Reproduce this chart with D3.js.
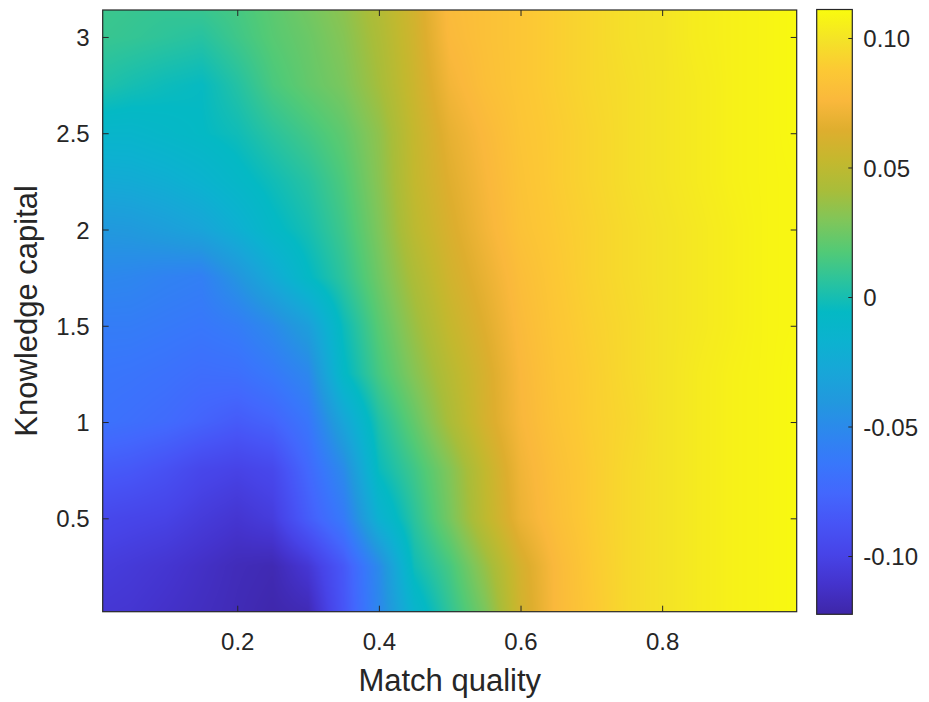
<!DOCTYPE html>
<html>
<head>
<meta charset="utf-8">
<script src="https://cdnjs.cloudflare.com/ajax/libs/d3/7.8.5/d3.min.js"></script>
<style>
  body { margin: 0; background: #fff; }
  text { font-family: "Liberation Sans", Arial, Helvetica, sans-serif; fill: #262626; }
  .tick line { stroke: #262626; stroke-width: 1; }
</style>
</head>
<body>
<div class="container"></div>
<script>
  // grid: match quality (columns) and knowledge capital (rows, bottom to top)
  var matchQ = [0.01, 0.05, 0.1, 0.15, 0.2, 0.25, 0.3, 0.35, 0.4, 0.45, 0.5,
                0.55, 0.6, 0.65, 0.7, 0.75, 0.8, 0.85, 0.9, 0.95, 0.99];
  var knowCap = [0.015, 0.25, 0.5, 0.75, 1.0, 1.25, 1.5, 1.75, 2.0, 2.25, 2.5, 2.75, 3.0, 3.14];

  // values, one array per knowledge capital level
  var zK000 = [-0.108, -0.109, -0.112, -0.115, -0.118, -0.121, -0.118, -0.087, -0.052, -0.014, 0.008, 0.028, 0.058, 0.077, 0.087, 0.095, 0.099, 0.103, 0.106, 0.108, 0.110];
  var zK025 = [-0.104, -0.106, -0.109, -0.113, -0.117, -0.119, -0.108, -0.085, -0.050, -0.002, 0.014, 0.036, 0.060, 0.077, 0.088, 0.095, 0.099, 0.103, 0.106, 0.108, 0.110];
  var zK050 = [-0.096, -0.098, -0.100, -0.105, -0.109, -0.104, -0.082, -0.062, -0.018, 0.006, 0.027, 0.050, 0.070, 0.081, 0.089, 0.095, 0.099, 0.103, 0.106, 0.108, 0.110];
  var zK075 = [-0.083, -0.085, -0.090, -0.097, -0.100, -0.096, -0.075, -0.050, -0.004, 0.012, 0.030, 0.052, 0.072, 0.082, 0.089, 0.095, 0.099, 0.103, 0.106, 0.108, 0.110];
  var zK100 = [-0.068, -0.070, -0.073, -0.078, -0.083, -0.078, -0.065, -0.030, 0.003, 0.022, 0.042, 0.060, 0.075, 0.084, 0.090, 0.094, 0.099, 0.103, 0.106, 0.108, 0.110];
  var zK125 = [-0.065, -0.066, -0.068, -0.071, -0.070, -0.063, -0.052, -0.008, 0.014, 0.031, 0.047, 0.061, 0.076, 0.085, 0.090, 0.095, 0.099, 0.103, 0.106, 0.108, 0.110];
  var zK150 = [-0.060, -0.060, -0.062, -0.064, -0.060, -0.050, -0.035, -0.003, 0.019, 0.037, 0.053, 0.065, 0.078, 0.086, 0.091, 0.095, 0.099, 0.102, 0.105, 0.108, 0.109];
  var zK175 = [-0.052, -0.053, -0.056, -0.058, -0.043, -0.025, -0.007, 0.007, 0.025, 0.043, 0.058, 0.069, 0.080, 0.087, 0.092, 0.096, 0.099, 0.102, 0.105, 0.108, 0.109];
  var zK200 = [-0.040, -0.039, -0.035, -0.030, -0.020, -0.008, 0.000, 0.012, 0.029, 0.049, 0.062, 0.073, 0.083, 0.088, 0.092, 0.096, 0.099, 0.102, 0.105, 0.108, 0.109];
  var zK225 = [-0.025, -0.024, -0.021, -0.016, -0.009, -0.002, 0.005, 0.016, 0.032, 0.052, 0.065, 0.075, 0.084, 0.089, 0.093, 0.097, 0.100, 0.103, 0.106, 0.108, 0.109];
  var zK250 = [-0.012, -0.012, -0.009, -0.006, -0.002, 0.006, 0.013, 0.021, 0.034, 0.053, 0.068, 0.077, 0.085, 0.089, 0.093, 0.097, 0.100, 0.103, 0.106, 0.108, 0.110];
  var zK275 = [0.003, 0.000, -0.003, -0.005, 0.004, 0.015, 0.022, 0.028, 0.040, 0.056, 0.073, 0.081, 0.086, 0.090, 0.094, 0.097, 0.100, 0.103, 0.106, 0.108, 0.110];
  var zK300 = [0.010, 0.009, 0.007, 0.005, 0.012, 0.019, 0.024, 0.031, 0.043, 0.058, 0.077, 0.082, 0.086, 0.090, 0.094, 0.098, 0.100, 0.104, 0.106, 0.108, 0.110];
  var zK314 = [0.011, 0.010, 0.009, 0.010, 0.014, 0.020, 0.026, 0.033, 0.045, 0.059, 0.078, 0.082, 0.086, 0.090, 0.094, 0.098, 0.100, 0.104, 0.106, 0.108, 0.110];
  var zRows = [zK000, zK025, zK050, zK075, zK100, zK125, zK150, zK175, zK200, zK225, zK250, zK275, zK300, zK314];

  // color limits and ticks
  var cLimits = [-0.1225, 0.111];
  var xTicks = [0.2, 0.4, 0.6, 0.8];
  var yTicks = [0.5, 1, 1.5, 2, 2.5, 3];
  var cTicks = [-0.10, -0.05, 0, 0.05, 0.10];
  var cTickLabels = ["-0.10", "-0.05", "0", "0.05", "0.10"];

  // parula-like colormap
  var parula = ["#3e26a8", "#4433cd", "#4744e8", "#4754f6", "#4367fd", "#3877fb", "#2d87ee",
                "#2298de", "#18a6d8", "#0cb2d0", "#04b9c4", "#2ac39e", "#52ca76", "#7fc65a",
                "#a8bd3a", "#c4b82e", "#deae2e", "#fab83c", "#fcc934", "#f4e327", "#f9fb0e"];

  // Frame
  var w = 929, h = 702;
  var svg = d3.select(".container").append("svg").attr("width", w).attr("height", h);

  var x0 = 102.7, x1 = 796.7, y0 = 10, y1 = 611.7;
  var x = d3.scaleLinear().domain([matchQ[0], matchQ[matchQ.length - 1]]).range([x0, x1]);
  var y = d3.scaleLinear().domain([knowCap[0], knowCap[knowCap.length - 1]]).range([y1, y0]);

  var color = d3.scaleLinear()
    .domain(parula.map(function(d, i){ return cLimits[0] + (cLimits[1] - cLimits[0]) * i / (parula.length - 1); }))
    .range(parula)
    .interpolate(d3.interpolateRgb)
    .clamp(true);

  // lookup table so the pixel loop stays fast
  var lutN = 1024, lut = [];
  for (var k = 0; k < lutN; k++) {
    lut.push(d3.rgb(color(cLimits[0] + (cLimits[1] - cLimits[0]) * k / (lutN - 1))));
  }

  //draws the interpolated surface into a canvas
  var cw = Math.round(x1 - x0), ch = Math.round(y1 - y0);
  var canvas = document.createElement("canvas");
  canvas.width = cw; canvas.height = ch;
  var ctx = canvas.getContext("2d");
  var img = ctx.createImageData(cw, ch);
  for (var j = 0; j < ch; j++) {
    var yv = y.invert(y0 + (j + 0.5) * (y1 - y0) / ch);
    var r = Math.min(Math.max(d3.bisectRight(knowCap, yv) - 1, 0), knowCap.length - 2);
    var ty = (yv - knowCap[r]) / (knowCap[r + 1] - knowCap[r]);
    ty = Math.max(0, Math.min(1, ty));
    for (var i = 0; i < cw; i++) {
      var xv = x.invert(x0 + (i + 0.5) * (x1 - x0) / cw);
      var c = Math.min(Math.max(d3.bisectRight(matchQ, xv) - 1, 0), matchQ.length - 2);
      var tx = (xv - matchQ[c]) / (matchQ[c + 1] - matchQ[c]);
      tx = Math.max(0, Math.min(1, tx));
      var v = (1 - ty) * ((1 - tx) * zRows[r][c] + tx * zRows[r][c + 1]) +
              ty * ((1 - tx) * zRows[r + 1][c] + tx * zRows[r + 1][c + 1]);
      var idx = Math.round((v - cLimits[0]) / (cLimits[1] - cLimits[0]) * (lutN - 1));
      var col = lut[Math.max(0, Math.min(lutN - 1, idx))];
      var p = (j * cw + i) * 4;
      img.data[p] = col.r; img.data[p + 1] = col.g; img.data[p + 2] = col.b; img.data[p + 3] = 255;
    }
  }
  ctx.putImageData(img, 0, 0);

  svg.append("image")
    .attr("x", x0).attr("y", y0)
    .attr("width", x1 - x0).attr("height", y1 - y0)
    .attr("preserveAspectRatio", "none")
    .attr("href", canvas.toDataURL());

  // axes, ticks pointing inward on all four sides
  var tickLen = 6;
  svg.append("g").attr("transform", "translate(0," + y1 + ")")
    .call(d3.axisBottom(x).tickValues(xTicks).tickFormat(d3.format(".1f"))
      .tickSizeInner(-tickLen).tickSizeOuter(0).tickPadding(21));
  svg.append("g").attr("transform", "translate(0," + y0 + ")")
    .call(d3.axisTop(x).tickValues(xTicks).tickFormat("").tickSizeInner(-tickLen).tickSizeOuter(0));
  var gy = svg.append("g").attr("transform", "translate(" + x0 + ",0)")
    .call(d3.axisLeft(y).tickValues(yTicks).tickFormat(function(d){ return String(d); })
      .tickSizeInner(-tickLen).tickSizeOuter(0).tickPadding(13));
  svg.append("g").attr("transform", "translate(" + x1 + ",0)")
    .call(d3.axisRight(y).tickValues(yTicks).tickFormat("").tickSizeInner(-tickLen).tickSizeOuter(0));

  svg.selectAll(".domain").remove();
  svg.selectAll(".tick text").attr("font-size", 24).attr("font-family", null);
  gy.selectAll(".tick text").attr("dy", "0.36em");

  svg.append("rect")
    .attr("x", x0).attr("y", y0).attr("width", x1 - x0).attr("height", y1 - y0)
    .attr("fill", "none").attr("stroke", "#262626").attr("stroke-width", 1.2);

  // axis labels
  svg.append("text")
    .attr("x", (x0 + x1) / 2).attr("y", 691)
    .attr("text-anchor", "middle").attr("font-size", 31)
    .text("Match quality");
  svg.append("text")
    .attr("transform", "translate(37," + ((y0 + y1) / 2) + ") rotate(-90)")
    .attr("text-anchor", "middle").attr("font-size", 31)
    .text("Knowledge capital");

  //colorbar
  var cbx0 = 816.7, cbx1 = 852.3, cby0 = 9.5, cby1 = 614.3;
  var cScale = d3.scaleLinear().domain(cLimits).range([cby1, cby0]);

  var grad = svg.append("defs").append("linearGradient")
    .attr("id", "cbgrad").attr("x1", 0).attr("y1", 1).attr("x2", 0).attr("y2", 0);
  grad.selectAll("stop").data(parula).enter().append("stop")
    .attr("offset", function(d, i){ return i / (parula.length - 1); })
    .attr("stop-color", function(d){ return d; });

  svg.append("rect")
    .attr("x", cbx0).attr("y", cby0).attr("width", cbx1 - cbx0).attr("height", cby1 - cby0)
    .attr("fill", "url(#cbgrad)");

  var gc = svg.append("g").attr("transform", "translate(" + cbx1 + ",0)")
    .call(d3.axisRight(cScale).tickValues(cTicks)
      .tickFormat(function(d, i){ return cTickLabels[i]; })
      .tickSizeInner(-4).tickSizeOuter(0).tickPadding(11));
  gc.select(".domain").remove();
  gc.selectAll(".tick text").attr("font-size", 24).attr("font-family", null).attr("dy", "0.36em");

  svg.append("rect")
    .attr("x", cbx0).attr("y", cby0).attr("width", cbx1 - cbx0).attr("height", cby1 - cby0)
    .attr("fill", "none").attr("stroke", "#262626").attr("stroke-width", 1.2);
</script>
</body>
</html>
